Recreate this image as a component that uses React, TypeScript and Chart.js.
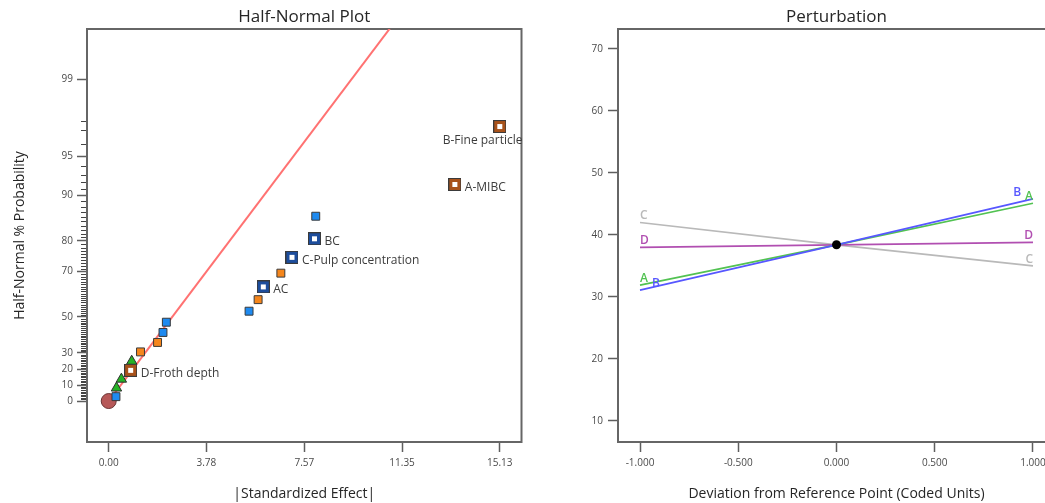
import React, { useEffect, useRef } from 'react';
import { Chart, Scale, registerables } from 'chart.js';

Chart.register(...registerables);

const FONT = '"Open Sans", "Noto Sans", sans-serif';
const FRAME = '#666666';
const TICK = '#5e5e5e';
const TICK_TEXT = '#4a4a4a';
const TEXT = '#262626';

/* ---------- Half-Normal Plot data ---------- */
const effectTicks = [0, 3.78, 7.57, 11.35, 15.13];
const probabilityTicks = [0, 10, 20, 30, 50, 70, 80, 90, 95, 99];

const originEffect = [0];
const originProbability = [0];

const errorEffects = [0.3, 0.49, 0.89];
const errorProbability = [8.3, 13.9, 25.0];

const positiveEffects = [1.23, 1.89, 5.78, 6.66];
const positiveProbability = [30.6, 36.1, 58.3, 69.4];

const negativeEffects = [0.28, 2.1, 2.23, 5.43, 8.01];
const negativeProbability = [2.8, 41.7, 47.2, 52.8, 86.1];

const positiveTerms = ['D-Froth depth', 'A-MIBC', 'B-Fine particle'];
const positiveTermEffects = [0.85, 13.39, 15.13];
const positiveTermProbability = [19.4, 91.7, 97.2];

const negativeTerms = ['AC', 'C-Pulp concentration', 'BC'];
const negativeTermEffects = [5.98, 7.09, 7.96];
const negativeTermProbability = [63.9, 75.0, 80.6];

const fitLineEffects = [0, 12];
const fitLineProbability = [0, 99.9];

/* ---------- Perturbation data ---------- */
const deviationTicks = [-1, -0.5, 0, 0.5, 1];
const responseTicks = [10, 20, 30, 40, 50, 60, 70];
const deviation = [-1, 0, 1];
const responseA = [31.9, 38.4, 45.1];
const responseB = [31.1, 38.4, 45.8];
const responseC = [42.0, 38.4, 35.0];
const responseD = [38.0, 38.4, 38.8];
const referenceDeviation = [0];
const referenceResponse = [38.4];

const pairs = (xs: number[], ys: number[]) => xs.map((x, i) => ({ x, y: ys[i] }));

/* ---------- half-normal probability helpers ---------- */
function normInv(p: number): number {
  const a = [-39.69683028665376, 220.9460984245205, -275.9285104469687, 138.357751867269, -30.66479806614716, 2.506628277459239];
  const b = [-54.47609879822406, 161.5858368580409, -155.6989798598866, 66.80131188771972, -13.28068155288572];
  const c = [-0.007784894002430293, -0.3223964580411365, -2.400758277161838, -2.549732539343734, 4.374664141464968, 2.938163982698783];
  const d = [0.007784695709041462, 0.3224671290700398, 2.445134137142996, 3.754408661907416];
  const pl = 0.02425;
  if (p < pl) {
    const q = Math.sqrt(-2 * Math.log(p));
    return (((((c[0] * q + c[1]) * q + c[2]) * q + c[3]) * q + c[4]) * q + c[5]) / ((((d[0] * q + d[1]) * q + d[2]) * q + d[3]) * q + 1);
  }
  if (p <= 1 - pl) {
    const q = p - 0.5;
    const r = q * q;
    return ((((((a[0] * r + a[1]) * r + a[2]) * r + a[3]) * r + a[4]) * r + a[5]) * q) / (((((b[0] * r + b[1]) * r + b[2]) * r + b[3]) * r + b[4]) * r + 1);
  }
  const q = Math.sqrt(-2 * Math.log(1 - p));
  return -(((((c[0] * q + c[1]) * q + c[2]) * q + c[3]) * q + c[4]) * q + c[5]) / ((((d[0] * q + d[1]) * q + d[2]) * q + d[3]) * q + 1);
}

function normCdf(z: number): number {
  const t = 1 / (1 + 0.3275911 * Math.abs(z) / Math.SQRT2);
  const y = 1 - ((((1.061405429 * t - 1.453152027) * t + 1.421413741) * t - 0.284496736) * t + 0.254829592) * t * Math.exp(-(z * z) / 2);
  return z >= 0 ? 0.5 * (1 + y) : 0.5 * (1 - y);
}

const halfNormalZ = (percent: number) => normInv(0.5 + percent / 200);
const halfNormalPercent = (z: number) => (2 * normCdf(z) - 1) * 100;

/* Axis spaced by half-normal quantiles, labelled in percent */
class HalfNormalScale extends Scale {
  static id = 'halfNormal';
  static defaults = {};
  determineDataLimits() {
    const opts: any = this.options;
    this.min = opts.min;
    this.max = opts.max;
  }
  buildTicks() {
    return [];
  }
  configure() {
    super.configure();
    const self: any = this;
    self._zStart = halfNormalZ(this.min);
    self._zSpan = halfNormalZ(this.max) - self._zStart;
  }
  getPixelForValue(value: number) {
    const self: any = this;
    return this.getPixelForDecimal((halfNormalZ(value) - self._zStart) / self._zSpan);
  }
  getValueForPixel(pixel: number) {
    const self: any = this;
    return halfNormalPercent(self._zStart + this.getDecimalForPixel(pixel) * self._zSpan);
  }
  getLabelForValue(value: number) {
    return String(value);
  }
}
Chart.register(HalfNormalScale);

// one short tick per percent between the labelled ones
const probabilityMinorTicks: number[] = [];
for (let v = 1; v <= 97; v += 1) {
  if (probabilityTicks.indexOf(v) < 0) probabilityMinorTicks.push(v);
}
probabilityMinorTicks.push(97.5);

/* ---------- plugins ---------- */
const frameAndTitle = (title: string) => ({
  id: 'frameAndTitle',
  beforeDatasetsDraw(chart: any) {
    const { ctx, chartArea: a } = chart;
    ctx.save();
    ctx.strokeStyle = FRAME;
    ctx.lineWidth = 2;
    ctx.strokeRect(a.left, a.top, a.right - a.left, a.bottom - a.top);
    ctx.restore();
  },
  afterDraw(chart: any) {
    const { ctx, chartArea: a } = chart;
    ctx.save();
    ctx.font = `17px ${FONT}`;
    ctx.fillStyle = TEXT;
    ctx.textAlign = 'center';
    ctx.textBaseline = 'alphabetic';
    ctx.fillText(title, (a.left + a.right) / 2, 21.5);
    ctx.restore();
  },
});

const minorTicks = {
  id: 'minorTicks',
  afterDraw(chart: any) {
    const { ctx, chartArea: a } = chart;
    const yScale = chart.scales.y;
    ctx.save();
    ctx.fillStyle = '#444444';
    for (const v of probabilityMinorTicks) {
      const py = Math.round(yScale.getPixelForValue(v));
      ctx.fillRect(a.left - 6, py, 5, 1);
    }
    ctx.restore();
  },
};

const termLabels = {
  id: 'termLabels',
  afterDatasetsDraw(chart: any) {
    const { ctx, chartArea: a } = chart;
    ctx.save();
    ctx.font = `12px ${FONT}`;
    ctx.fillStyle = '#3c3c3c';
    ctx.textAlign = 'left';
    ctx.textBaseline = 'alphabetic';
    chart.data.datasets.forEach((ds: any, i: number) => {
      if (!ds.termNames) return;
      chart.getDatasetMeta(i).data.forEach((pt: any, j: number) => {
        const text = ds.termNames[j];
        const w = ctx.measureText(text).width;
        let x = pt.x + 10;
        let y = pt.y + 6.3;
        if (x + w > a.right + 2) {
          x = Math.min(pt.x - w / 2, a.right + 1 - w);
          y = pt.y + 17.8;
        }
        ctx.fillText(text, x, y);
      });
    });
    ctx.restore();
  },
};

const endLabels = {
  id: 'endLabels',
  afterDatasetsDraw(chart: any) {
    const ctx = chart.ctx;
    ctx.save();
    ctx.font = `600 12px ${FONT}`;
    ctx.textAlign = 'left';
    ctx.textBaseline = 'alphabetic';
    const h = 9;
    const left: any[] = [];
    const right: any[] = [];
    const hit = (x: number, y: number, w: number, b: any) =>
      x < b.x + b.w && x + w > b.x && y < b.y + b.h && y + h > b.y;
    chart.data.datasets.forEach((ds: any, i: number) => {
      if (!ds.factorName) return;
      const pts = chart.getDatasetMeta(i).data;
      const first = pts[0];
      const last = pts[pts.length - 1];
      const w = ctx.measureText(ds.factorName).width;
      ctx.fillStyle = ds.borderColor;

      let lx = first.x;
      const ly = first.y - 3;
      left.forEach((b) => {
        if (hit(lx, ly - h, w, b)) lx = b.x + b.w + 4;
      });
      left.push({ x: lx, y: ly - h, w, h });
      ctx.fillText(ds.factorName, lx, ly);

      let rx = last.x - w;
      const ry = last.y - 3;
      right.forEach((b) => {
        if (hit(rx, ry - h, w, b)) rx = b.x - 4 - w;
      });
      right.push({ x: rx, y: ry - h, w, h });
      ctx.fillText(ds.factorName, rx, ry);
    });
    ctx.restore();
  },
};

function termMarker(ring: string): HTMLCanvasElement {
  const c = document.createElement('canvas');
  c.width = 13;
  c.height = 13;
  const g = c.getContext('2d')!;
  g.fillStyle = '#3a3a3a';
  g.fillRect(0, 0, 13, 13);
  g.fillStyle = ring;
  g.fillRect(1, 1, 11, 11);
  g.fillStyle = '#ffffff';
  g.fillRect(4, 4, 5, 5);
  return c;
}

const tickFont = { family: FONT, size: 10 };
const axisTitleFont = { family: FONT, size: 14 };

function halfNormalConfig(): any {
  return {
    type: 'scatter',
    data: {
      datasets: [
        {
          label: 'Normal line',
          data: pairs(fitLineEffects, fitLineProbability),
          showLine: true,
          borderColor: '#ff7272',
          borderWidth: 2,
          pointRadius: 0,
          order: 10,
        },
        {
          label: 'Origin',
          data: pairs(originEffect, originProbability),
          pointStyle: 'circle',
          pointRadius: 7.5,
          backgroundColor: '#b65858',
          borderColor: '#6a3434',
          borderWidth: 1,
          order: 9,
        },
        {
          label: 'Error',
          data: pairs(errorEffects, errorProbability),
          pointStyle: 'triangle',
          pointRadius: 6,
          backgroundColor: '#26b326',
          borderColor: '#2e2e2e',
          borderWidth: 1,
          order: 8,
        },
        {
          label: 'Positive effects',
          data: pairs(positiveEffects, positiveProbability),
          pointStyle: 'rect',
          pointRadius: 5.6,
          backgroundColor: '#f5861c',
          borderColor: '#3a3a3a',
          borderWidth: 1,
          order: 7,
        },
        {
          label: 'Negative effects',
          data: pairs(negativeEffects, negativeProbability),
          pointStyle: 'rect',
          pointRadius: 5.6,
          backgroundColor: '#1e8af0',
          borderColor: '#3a3a3a',
          borderWidth: 1,
          order: 6,
        },
        {
          label: 'Positive terms',
          data: pairs(positiveTermEffects, positiveTermProbability),
          termNames: positiveTerms,
          pointStyle: termMarker('#a8521a'),
          pointRadius: 6,
          order: 5,
        },
        {
          label: 'Negative terms',
          data: pairs(negativeTermEffects, negativeTermProbability),
          termNames: negativeTerms,
          pointStyle: termMarker('#1d4d9c'),
          pointRadius: 6,
          order: 4,
        },
      ],
    },
    options: {
      responsive: false,
      animation: false,
      devicePixelRatio: 1,
      events: [],
      layout: { padding: { top: 29, right: 5.5, bottom: 0, left: 0 } },
      plugins: { legend: { display: false }, tooltip: { enabled: false }, title: { display: false } },
      scales: {
        x: {
          type: 'linear',
          min: -0.84,
          max: 15.97,
          afterFit: (s: any) => {
            s.height = 61;
          },
          afterBuildTicks: (s: any) => {
            s.ticks = effectTicks.map((value) => ({ value }));
          },
          ticks: {
            autoSkip: false,
            maxRotation: 0,
            padding: 5,
            color: TICK_TEXT,
            font: tickFont,
            callback: (v: number) => v.toFixed(2),
          },
          grid: { drawOnChartArea: false, drawTicks: true, tickLength: 10, tickColor: TICK, tickWidth: 1.5 },
          border: { display: false },
          title: {
            display: true,
            text: '|Standardized Effect|',
            color: TEXT,
            font: axisTitleFont,
            padding: { top: 0, bottom: 0.6 },
          },
        },
        y: {
          type: 'halfNormal',
          min: -25.7,
          max: 99.71,
          afterFit: (s: any) => {
            s.width = 87;
          },
          afterBuildTicks: (s: any) => {
            s.ticks = probabilityTicks.map((value) => ({ value }));
          },
          ticks: {
            autoSkip: false,
            padding: 4,
            color: TICK_TEXT,
            font: tickFont,
            callback: (v: number) => String(v),
          },
          grid: { drawOnChartArea: false, drawTicks: true, tickLength: 10, tickColor: TICK, tickWidth: 1.5 },
          border: { display: false },
          title: {
            display: true,
            text: 'Half-Normal % Probability',
            color: TEXT,
            font: axisTitleFont,
            padding: { top: 12, bottom: 0 },
          },
        },
      },
    },
    plugins: [frameAndTitle('Half-Normal Plot'), minorTicks, termLabels],
  };
}

function perturbationConfig(): any {
  const factor = (name: string, values: number[], color: string, order: number) => ({
    label: name,
    factorName: name,
    data: pairs(deviation, values),
    showLine: true,
    borderColor: color,
    borderWidth: 1.7,
    pointRadius: 0,
    order,
  });
  return {
    type: 'scatter',
    data: {
      datasets: [
        factor('A', responseA, '#52c252', 2),
        factor('B', responseB, '#5757ff', 1),
        factor('C', responseC, '#b9b9b9', 4),
        factor('D', responseD, '#b14fb1', 3),
        {
          label: 'Reference point',
          data: pairs(referenceDeviation, referenceResponse),
          pointStyle: 'circle',
          pointRadius: 4.5,
          backgroundColor: '#000000',
          borderColor: '#000000',
          borderWidth: 0,
          order: 0,
        },
      ],
    },
    options: {
      responsive: false,
      animation: false,
      devicePixelRatio: 1,
      events: [],
      layout: { padding: { top: 29, right: 35, bottom: 0, left: 0 } },
      plugins: { legend: { display: false }, tooltip: { enabled: false }, title: { display: false } },
      scales: {
        x: {
          type: 'linear',
          min: -1.112,
          max: 1.112,
          afterFit: (s: any) => {
            s.height = 61;
          },
          afterBuildTicks: (s: any) => {
            s.ticks = deviationTicks.map((value) => ({ value }));
          },
          ticks: {
            autoSkip: false,
            maxRotation: 0,
            padding: 5,
            color: TICK_TEXT,
            font: tickFont,
            callback: (v: number) => v.toFixed(3),
          },
          grid: { drawOnChartArea: false, drawTicks: true, tickLength: 10, tickColor: TICK, tickWidth: 1.5 },
          border: { display: false },
          title: {
            display: true,
            text: 'Deviation from Reference Point (Coded Units)',
            color: TEXT,
            font: axisTitleFont,
            padding: { top: 0, bottom: 0.6 },
          },
        },
        y: {
          type: 'linear',
          min: 6.6,
          max: 73.2,
          afterFit: (s: any) => {
            s.width = 88;
          },
          afterBuildTicks: (s: any) => {
            s.ticks = responseTicks.map((value) => ({ value }));
          },
          ticks: {
            autoSkip: false,
            padding: 5,
            color: TICK_TEXT,
            font: tickFont,
            callback: (v: number) => String(v),
          },
          grid: { drawOnChartArea: false, drawTicks: true, tickLength: 10, tickColor: TICK, tickWidth: 1.5 },
          border: { display: false },
        },
      },
    },
    plugins: [frameAndTitle('Perturbation'), endLabels],
  };
}

export default function App() {
  const halfNormalRef = useRef<HTMLCanvasElement>(null);
  const perturbationRef = useRef<HTMLCanvasElement>(null);

  useEffect(() => {
    const halfNormal = new Chart(halfNormalRef.current!, halfNormalConfig());
    const perturbation = new Chart(perturbationRef.current!, perturbationConfig());
    return () => {
      halfNormal.destroy();
      perturbation.destroy();
    };
  }, []);

  return (
    <div
      style={{
        position: 'fixed',
        left: 0,
        top: 0,
        width: 1045,
        height: 503,
        overflow: 'hidden',
        background: '#ffffff',
      }}
    >
      <canvas ref={halfNormalRef} width={530} height={503} style={{ position: 'absolute', left: 0, top: 0 }} />
      <canvas ref={perturbationRef} width={560} height={503} style={{ position: 'absolute', left: 530, top: 0 }} />
    </div>
  );
}
